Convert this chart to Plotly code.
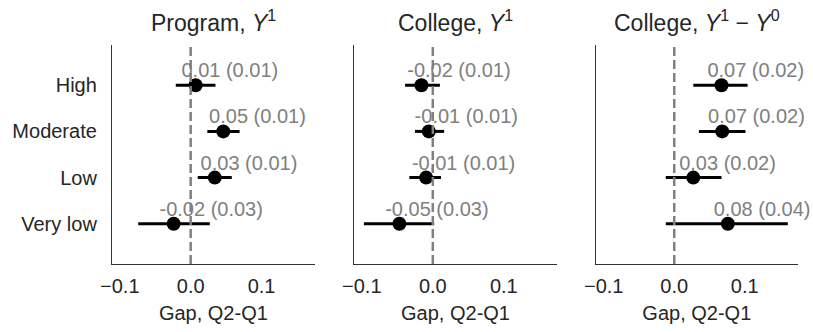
import plotly.graph_objects as go

categories = ["High", "Moderate", "Low", "Very low"]
panel_titles = [
    "Program, <i>Y</i><sup>1</sup>",
    "College, <i>Y</i><sup>1</sup>",
    "College, <i>Y</i><sup>1</sup> − <i>Y</i><sup>0</sup>",
]

# point estimates (gap Q2-Q1), standard errors and CI bounds per panel
program_y1_est = [0.007, 0.046, 0.034, -0.024]
program_y1_se = [0.01, 0.01, 0.01, 0.03]
program_y1_lo = [-0.021, 0.0235, 0.010, -0.074]
program_y1_hi = [0.035, 0.069, 0.058, 0.027]

college_y1_est = [-0.016, -0.0056, -0.0094, -0.047]
college_y1_se = [0.01, 0.01, 0.01, 0.03]
college_y1_lo = [-0.039, -0.025, -0.033, -0.097]
college_y1_hi = [0.010, 0.016, 0.0116, 0.002]

college_diff_est = [0.067, 0.068, 0.027, 0.076]
college_diff_se = [0.02, 0.02, 0.02, 0.04]
college_diff_lo = [0.027, 0.035, -0.012, -0.012]
college_diff_hi = [0.104, 0.101, 0.067, 0.161]

x_ticks = [-0.1, 0.0, 0.1]
x_title = "Gap, Q2-Q1"

panels = [
    (program_y1_est, program_y1_se, program_y1_lo, program_y1_hi),
    (college_y1_est, college_y1_se, college_y1_lo, college_y1_hi),
    (college_diff_est, college_diff_se, college_diff_lo, college_diff_hi),
]

FONT = "Liberation Sans, Arial, sans-serif"
DARK = "#262626"
GRAY = "#808080"

domains = [[0.0, 0.2955], [0.3527, 0.6488], [0.7055, 0.9995]]
ypos = [len(categories) - 1 - i for i in range(len(categories))]

fig = go.Figure()
for p, (est, se, lo, hi) in enumerate(panels):
    xa = "x" if p == 0 else f"x{p+1}"
    ya = "y" if p == 0 else f"y{p+1}"
    fig.add_trace(go.Scatter(
        x=est, y=ypos, mode="markers",
        marker=dict(color="black", size=14),
        error_x=dict(type="data", symmetric=False,
                     array=[h - e for h, e in zip(hi, est)],
                     arrayminus=[e - l for e, l in zip(est, lo)],
                     thickness=3, width=0, color="black"),
        xaxis=xa, yaxis=ya, showlegend=False, hoverinfo="skip",
    ))
    labels = [f"{e:.2f} ({s:.2f})" for e, s in zip(est, se)]
    fig.add_trace(go.Scatter(
        x=[e - 0.02 for e in est], y=[v + 0.28 for v in ypos], mode="text",
        text=labels, textposition="middle right",
        textfont=dict(color=GRAY, size=20, family=FONT),
        xaxis=xa, yaxis=ya, showlegend=False, hoverinfo="skip", cliponaxis=False,
    ))
    xkey = "xaxis" if p == 0 else f"xaxis{p+1}"
    ykey = "yaxis" if p == 0 else f"yaxis{p+1}"
    fig.layout[xkey] = dict(
        domain=domains[p], range=[-0.111, 0.175], anchor=ya,
        tickvals=x_ticks, tickformat=".1f",
        showline=True, linecolor="#333333", linewidth=1.3,
        showgrid=False, zeroline=False,
        ticks="outside", ticklen=4, tickcolor="rgba(0,0,0,0)",
        tickfont=dict(size=20, color=DARK, family=FONT),
        title=dict(text=x_title, font=dict(size=20, color=DARK, family=FONT), standoff=9),
    )
    fig.layout[ykey] = dict(
        domain=[0, 1], range=[-0.87, 3.87], anchor=xa,
        tickvals=ypos, ticktext=categories if p == 0 else None,
        showticklabels=(p == 0),
        showline=True, linecolor="#333333", linewidth=1.3,
        showgrid=False, zeroline=False,
        ticks="outside" if p == 0 else "", ticklen=10, tickcolor="rgba(0,0,0,0)",
        tickfont=dict(size=20, color=DARK, family=FONT),
    )
    fig.add_shape(type="line", xref=xa, yref=f"{ya} domain", x0=0, x1=0, y0=0, y1=1,
                  line=dict(color=GRAY, width=2.5, dash="9px,4px"), layer="above")
    fig.add_annotation(text=panel_titles[p], xref="paper", yref="paper",
                       x=sum(domains[p]) / 2, xanchor="center",
                       y=1.0, yanchor="bottom", yshift=7,
                       showarrow=False, font=dict(size=23, color=DARK, family=FONT))

fig.update_layout(
    width=813, height=332,
    margin=dict(l=111, r=15, t=45, b=66),
    paper_bgcolor="white", plot_bgcolor="white",
    font=dict(family=FONT, color=DARK),
)
fig.write_html("out.html")
